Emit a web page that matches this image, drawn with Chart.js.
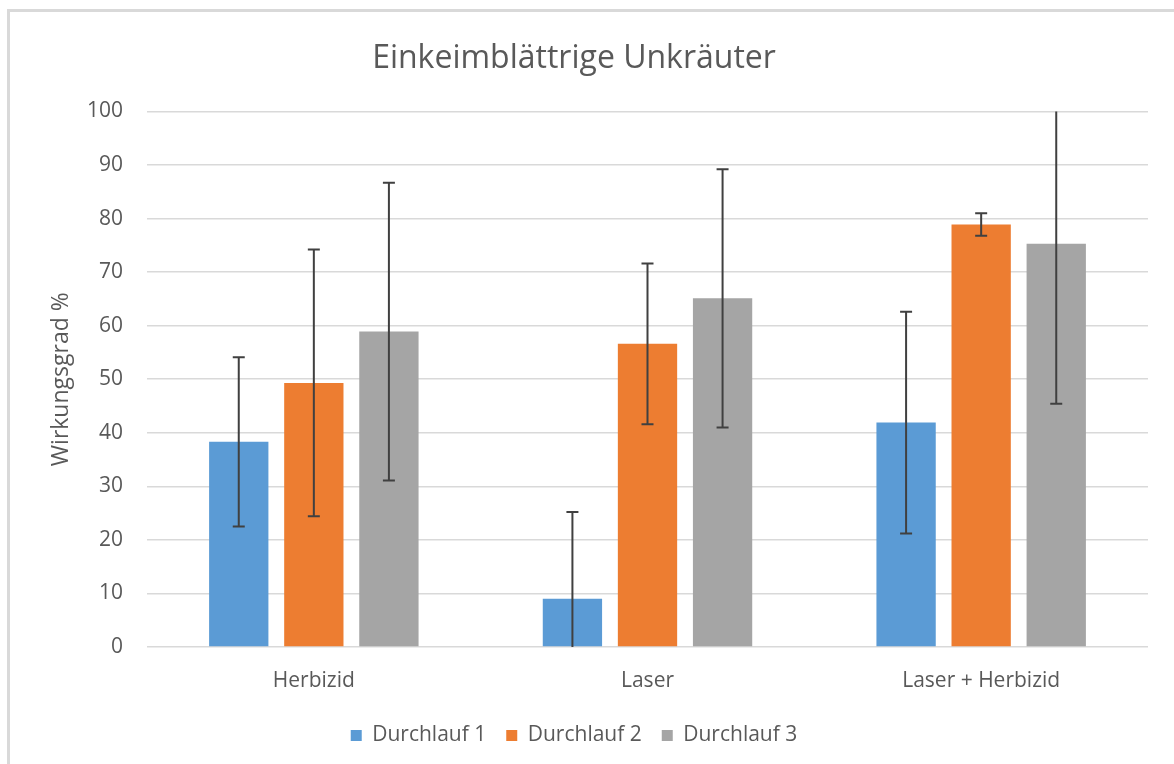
<!DOCTYPE html>
<html>
<head>
<meta charset="utf-8">
<script src="https://cdn.jsdelivr.net/npm/chart.js@4"></script>
<style>
  html, body { margin: 0; padding: 0; background: #fff; overflow: hidden; }
  #frame { position: absolute; left: 7px; top: 9px; width: 1200px; height: 800px; border: 3px solid #d9d9d9; }
  #wrap { position: absolute; left: 0; top: 0; width: 1174px; height: 764px; }
</style>
</head>
<body>
<div id="frame"></div>
<div id="wrap"><canvas id="chart" width="1174" height="764"></canvas></div>
<script>
// categories and series
const categories = ['Herbizid', 'Laser', 'Laser + Herbizid'];
const seriesNames = ['Durchlauf 1', 'Durchlauf 2', 'Durchlauf 3'];
const run1 = [38.3, 9.0, 41.9];
const run2 = [49.3, 56.6, 78.9];
const run3 = [58.9, 65.1, 75.3];
// standard deviation (symmetric error bars)
const err1 = [15.8, 16.2, 20.7];
const err2 = [24.9, 15.0, 2.1];
const err3 = [27.8, 24.1, 29.9];
const yTicks = [0, 10, 20, 30, 40, 50, 60, 70, 80, 90, 100];

const colors = ['#5b9bd5', '#ed7d31', '#a5a5a5'];
const textColor = '#595959';
const fontFamily = '"Open Sans", Lato, sans-serif';

// draws the error bars, clipped to the plot area like Excel does
const errorBars = {
  id: 'errorBars',
  afterDatasetsDraw(chart) {
    const ctx = chart.ctx;
    const y = chart.scales.y;
    const area = chart.chartArea;
    ctx.save();
    ctx.strokeStyle = '#404040';
    ctx.lineWidth = 2;
    chart.data.datasets.forEach((ds, i) => {
      const meta = chart.getDatasetMeta(i);
      meta.data.forEach((bar, j) => {
        const v = ds.data[j], e = ds.errors[j];
        let top = y.getPixelForValue(v + e);
        let bot = y.getPixelForValue(v - e);
        const topCap = top >= area.top;
        const botCap = bot <= area.bottom;
        top = Math.max(top, area.top);
        bot = Math.min(bot, area.bottom);
        ctx.beginPath();
        ctx.moveTo(bar.x, top);
        ctx.lineTo(bar.x, bot);
        if (topCap) { ctx.moveTo(bar.x - 6, top); ctx.lineTo(bar.x + 6, top); }
        if (botCap) { ctx.moveTo(bar.x - 6, bot); ctx.lineTo(bar.x + 6, bot); }
        ctx.stroke();
      });
    });
    ctx.restore();
  }
};

const allRuns = [run1, run2, run3];
const allErrs = [err1, err2, err3];

new Chart(document.getElementById('chart').getContext('2d'), {
  type: 'bar',
  data: {
    labels: categories,
    datasets: seriesNames.map((name, i) => ({
      label: name,
      data: allRuns[i],
      errors: allErrs[i],
      backgroundColor: colors[i],
      borderWidth: 0,
      categoryPercentage: 0.675,
      barPercentage: 0.79
    }))
  },
  options: {
    responsive: false,
    animation: false,
    layout: { padding: { left: 0, right: 26, bottom: 8 } },
    plugins: {
      title: {
        display: true,
        text: 'Einkeimblättrige Unkräuter',
        color: textColor,
        font: { family: fontFamily, size: 32, weight: 'normal' },
        padding: { top: 40, bottom: 33 }
      },
      legend: {
        position: 'bottom',
        labels: {
          color: textColor,
          font: { family: fontFamily, size: 21 },
          boxWidth: 11,
          boxHeight: 11,
          padding: 20
        }
      },
      tooltip: { enabled: false }
    },
    scales: {
      x: {
        grid: { display: false },
        border: { display: false },
        ticks: { color: textColor, font: { family: fontFamily, size: 21 }, padding: 13 },
        afterFit: s => { s.height = 58; }
      },
      y: {
        min: 0,
        max: 100,
        afterBuildTicks: s => { s.ticks = yTicks.map(v => ({ value: v })); },
        grid: { color: '#d9d9d9', lineWidth: 1.5, drawTicks: false },
        border: { display: false },
        ticks: { color: textColor, font: { family: fontFamily, size: 21 }, padding: 24 },
        title: {
          display: true,
          text: 'Wirkungsgrad %',
          color: textColor,
          font: { family: fontFamily, size: 23 },
          padding: { top: 48, bottom: 0 }
        },
        afterFit: s => { s.width = 147; }
      }
    }
  },
  plugins: [errorBars]
});
</script>
</body>
</html>
